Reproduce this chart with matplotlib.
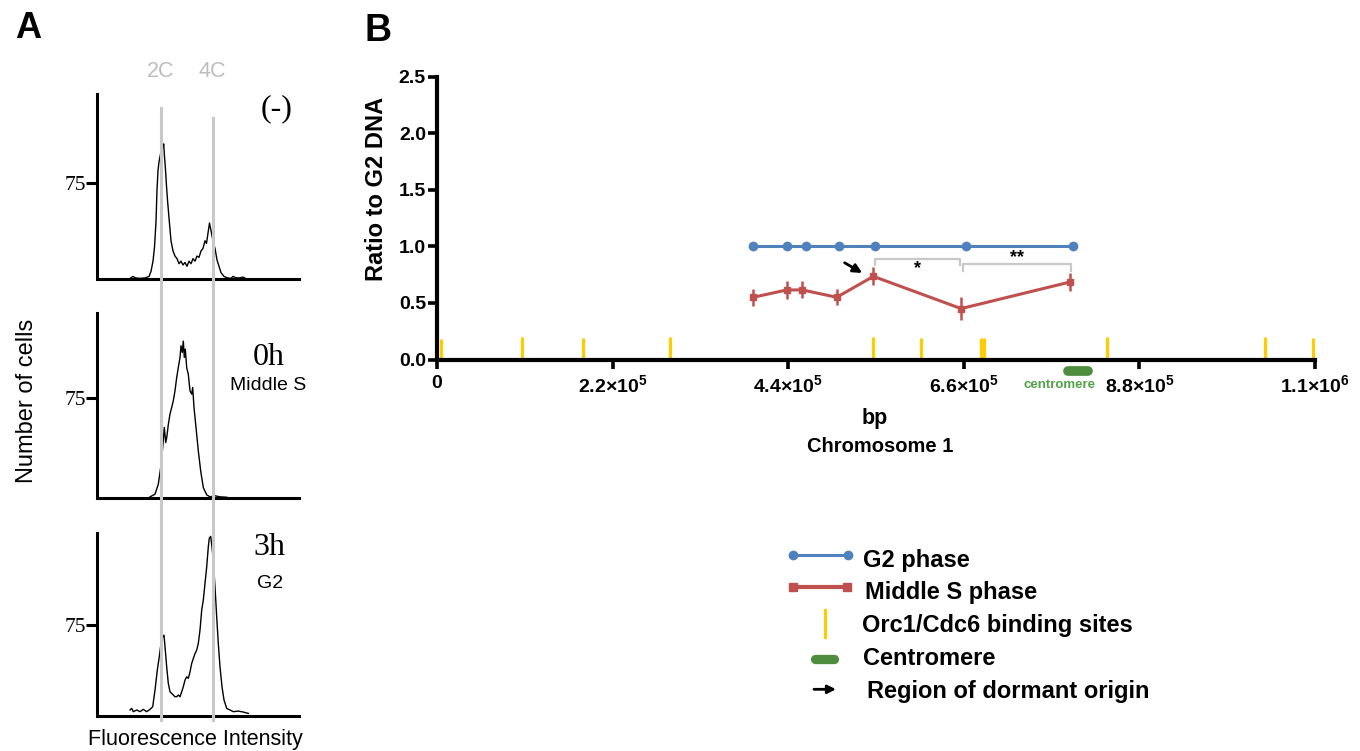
import matplotlib
matplotlib.use("Agg")
import matplotlib.pyplot as plt
from matplotlib.transforms import blended_transform_factory

plt.rcParams["font.family"] = ["Liberation Sans", "DejaVu Sans"]
plt.rcParams["mathtext.fontset"] = "custom"
plt.rcParams["mathtext.rm"] = "Liberation Sans"
plt.rcParams["mathtext.bf"] = "Liberation Sans:bold"

W, H = 1360, 751

# ---- panel A: DNA content histograms (fluorescence channel, number of cells)
ctrl_channel = [31, 34, 36, 40, 46, 50, 52, 54, 55.5, 57, 58, 59, 60, 61, 62, 63, 64, 64.7, 65.5, 66.5,
                67.5, 68.5, 70, 72, 74, 76, 78, 80, 82, 84, 86, 88, 90, 92, 94, 96, 98, 100, 102, 104,
                106, 107.5, 109, 110.5, 111.5, 113, 114.5, 116, 118, 120, 122, 125, 128, 132, 134, 137, 140, 144, 147]
ctrl_cells = [0.5, 2, 1, 0.5, 0.8, 2, 6, 14, 25, 45, 70, 85, 92, 96, 100, 108, 104, 106, 96, 86,
              73, 62, 48, 30, 22, 18, 16, 12, 14, 11, 13, 10, 14, 12, 16, 14, 18, 17, 22, 24,
              30, 28, 36, 44, 40, 34, 28, 24, 15, 10, 5, 2, 1, 0.5, 2, 1, 0.8, 1.5, 0.3]

mid_s_channel = [51, 56, 59.3, 61.7, 63.7, 65.3, 66.7, 67.7, 69.3, 71, 72.7, 74.3, 76, 77.7, 79.3, 81, 82, 83.3,
                 84.3, 85.3, 86.3, 87.7, 89.3, 91, 92.7, 93.7, 95, 97, 99.3, 101.7, 104.3, 107.7, 111, 116, 121, 127.7]
mid_s_cells = [0.5, 2.5, 10, 22.7, 37.8, 52.9, 41.5, 45, 55, 63, 68, 73, 80.6, 90.6, 98, 105.7, 114.5, 109.5,
               118, 105.7, 112, 98, 93, 80.6, 78, 83, 68, 52.9, 35.2, 20, 7.5, 2, 0.5, 1.3, 0.5, 0.2]

g2_channel = [31, 32.7, 34.3, 37.7, 41, 44.3, 47.7, 51, 53.7, 56, 58.3, 60.3, 62, 63.7, 65, 66.3, 67.7, 69.3, 71, 72.7,
              74.3, 76, 77.7, 79.3, 81, 82.7, 84.3, 86, 87.7, 89.3, 91, 92.7, 94.3, 96, 97.7, 99.3, 101, 102.7, 104.3, 106,
              107.7, 109.3, 110.3, 111.7, 113, 114.3, 116, 117.7, 119.3, 121, 123, 125, 127.7, 131, 134.3, 139.3, 144.3, 149.3]
g2_cells = [4.7, 6, 3.3, 4.7, 3.3, 5.2, 3.3, 5.2, 7.4, 21, 37.5, 48.5, 59.4, 64.9, 66.2, 54, 40, 26.6, 19.7, 18.3,
            17, 15.6, 15.6, 17, 15.6, 19.7, 23.8, 29.3, 32, 30.7, 36, 43, 47, 51, 54, 59.4, 70.4, 86.8, 95, 108.7,
            122.4, 138.8, 146, 147.5, 138.8, 127.8, 106, 81.3, 59.4, 40.2, 23.8, 12.9, 6, 4.7, 3.3, 3.8, 3, 1.9]

ploidy_labels = ["2C", "4C"]
ploidy_channel = [62, 113.7]
sample_titles = ["(-)", "0h", "3h"]
sample_phases = ["", "Middle S", "G2"]

# ---- panel B: copy number along chromosome 1
g2_bp = [395600, 438200, 462000, 504100, 548400, 662800, 796500]
g2_ratio = [1.0, 1.0, 1.0, 1.0, 1.0, 1.0, 1.0]
mid_bp = [396300, 438200, 457700, 500800, 546700, 656600, 793100]
mid_ratio = [0.55, 0.615, 0.615, 0.55, 0.735, 0.45, 0.685]
mid_err = [0.075, 0.08, 0.075, 0.07, 0.08, 0.10, 0.08]
orc_bp = [5000, 106500, 183000, 292000, 546300, 607000, 681200, 685800, 839000, 1037500, 1097600]
orc_height = [0.185, 0.20, 0.19, 0.203, 0.20, 0.188, 0.194, 0.194, 0.203, 0.196, 0.188]
centromere_bp = [790000, 815000]
xtick_bp = [0, 220000, 440000, 660000, 880000, 1100000]
xtick_labels = ["0", r"2.2×10$^{\mathbf{5}}$", r"4.4×10$^{\mathbf{5}}$", r"6.6×10$^{\mathbf{5}}$",
                r"8.8×10$^{\mathbf{5}}$", r"1.1×10$^{\mathbf{6}}$"]
ytick_ratio = [0.0, 0.5, 1.0, 1.5, 2.0, 2.5]
# significance brackets: (start bp, end bp, top, leg bottom, label, label y)
brackets = [(548400, 655000, 0.889, 0.836, "*", 0.80),
            (659500, 794400, 0.845, 0.78, "**", 0.905)]

BLUE = "#4f81bd"
RED = "#c0504d"
YELLOW = "#ffcc00"
GREEN = "#4e8c3e"
GREY = "#c8c8c8"


def rect(x0, y0, x1, y1):
    return [x0 / W, 1 - y1 / H, (x1 - x0) / W, (y1 - y0) / H]


fig = plt.figure(figsize=(W / 100, H / 100), dpi=100)

# panel A
a_rects = [(100, 94.3, 299, 279), (100, 313.3, 299, 497.5), (100, 532.7, 299, 715.7)]
a_ytop = [145, 139, 150.5]
traces = [(ctrl_channel, ctrl_cells), (mid_s_channel, mid_s_cells), (g2_channel, g2_cells)]
axes_a = []
for r, ytop, (chan, cells) in zip(a_rects, a_ytop, traces):
    ax = fig.add_axes(rect(*r))
    ax.plot(chan, cells, color="black", lw=1.0)
    ax.set_xlim(1, 200)
    ax.set_ylim(0, ytop)
    for side in ("top", "right"):
        ax.spines[side].set_visible(False)
    ax.spines["left"].set_position(("outward", 2))
    ax.spines["left"].set_linewidth(2.2)
    ax.spines["bottom"].set_linewidth(2.2)
    ax.set_xticks([])
    ax.set_yticks([75])
    ax.set_yticklabels(["75"], fontfamily="Liberation Serif", fontsize=15.5)
    ax.tick_params(axis="y", direction="out", length=8, width=2.2, pad=0)
    ax.patch.set_visible(False)
    axes_a.append(ax)

# panel B
ax = fig.add_axes(rect(437, 76.7, 1315, 359.5))
ax.vlines(orc_bp, 0, orc_height, color=YELLOW, lw=2.3, zorder=2)
ax.plot(g2_bp, g2_ratio, color=BLUE, lw=2.2, marker="o", ms=6, zorder=3)
ax.errorbar(mid_bp, mid_ratio, yerr=mid_err, color=RED, lw=2.2, elinewidth=1.8,
            capsize=0, marker="s", ms=4, zorder=3)
for x0, x1, top, low, lab, ly in brackets:
    ax.plot([x0, x0, x1, x1], [low, top, top, low], color=GREY, lw=1.6, zorder=2)
    ax.text((x0 + x1) / 2, ly, lab, ha="center", va="center", fontsize=13, fontweight="bold")
ax.annotate("", xy=(mid_bp[4] - 14000, mid_ratio[4] + 0.03),
            xytext=(mid_bp[4] - 36000, mid_ratio[4] + 0.12),
            arrowprops=dict(arrowstyle="-|>", color="black", lw=2, mutation_scale=13,
                            shrinkA=0, shrinkB=0))
ax.plot(centromere_bp, [-0.1, -0.1], color=GREEN, lw=7, solid_capstyle="round", clip_on=False)
ax.text(780000, -0.226, "centromere", color="#52a047", fontsize=9.5, fontweight="bold",
        ha="center", va="center")
ax.set_xlim(0, 1100000)
ax.set_ylim(0, 2.5)
ax.set_xticks(xtick_bp, xtick_labels)
ax.set_yticks(ytick_ratio, [f"{v:.1f}" for v in ytick_ratio])
for lab in ax.get_xticklabels() + ax.get_yticklabels():
    lab.set_fontweight("bold")
ax.tick_params(axis="x", length=6.5, width=2.6, labelsize=14, pad=4.5)
ax.tick_params(axis="y", length=6.5, width=2.6, labelsize=14, pad=1.5)
for side in ("top", "right"):
    ax.spines[side].set_visible(False)
for side in ("left", "bottom"):
    ax.spines[side].set_linewidth(3)
ax.patch.set_visible(False)

# overlay in pixel coordinates for labels and legend
ov = fig.add_axes([0, 0, 1, 1])
ov.set_xlim(0, W)
ov.set_ylim(H, 0)
ov.axis("off")

for lab, c, y0 in zip(ploidy_labels, ploidy_channel, [108, 118]):
    tr = blended_transform_factory(axes_a[0].transData, ov.transData)
    ov.plot([c, c], [y0, 720], color=GREY, lw=2.2, transform=tr, clip_on=False)
    ov.text(c, 76.7, lab, color="#bdbdbd", fontsize=15.5, ha="center", va="baseline", transform=tr)

serif = "Liberation Serif"
for title, phase, (tx, ty), (px, py) in zip(sample_titles, sample_phases,
                                              [(276.7, 116), (269, 365), (269, 555)],
                                              [(0, 0), (267.7, 390), (270.5, 588.3)]):
    ov.text(tx, ty, title, fontfamily=serif, fontsize=23, ha="center", va="baseline")
    if phase:
        ov.text(px, py, phase, fontsize=14, ha="center", va="baseline")

ov.text(28, 38.3, "A", fontsize=26, fontweight="bold", ha="center", va="baseline")
ov.text(378, 40.7, "B", fontsize=27, fontweight="bold", ha="center", va="baseline")
ov.text(27.5, 401, "Number of cells", fontsize=17, rotation=90, ha="center", va="center")
ov.text(195, 745, "Fluorescence Intensity", fontsize=15.5, ha="center", va="baseline")

ov.text(376.5, 188.5, "Ratio to G2 DNA", fontsize=17, fontweight="bold", rotation=90,
        ha="center", va="center")
ov.text(875, 424.3, "bp", fontsize=15.5, fontweight="bold", ha="center", va="baseline")
ov.text(880, 451.7, "Chromosome 1", fontsize=14.5, fontweight="bold", ha="center", va="baseline")

# legend
ov.plot([793.3, 848.3], [555, 555], color=BLUE, lw=2.2, marker="o", ms=6)
ov.plot([792.5, 846.5], [587.3, 587.3], color=RED, lw=3, marker="s", ms=5.5)
ov.plot([825, 825], [610, 636.7], color=YELLOW, lw=2.2)
ov.plot([814.7, 834.3], [658.7, 658.7], color=GREEN, lw=6.7, solid_capstyle="round")
ov.annotate("", xy=(836, 689.3), xytext=(814, 689.3),
            arrowprops=dict(arrowstyle="-|>", color="black", lw=2, mutation_scale=12,
                            shrinkA=0, shrinkB=0))
legend_text = ["G2 phase", "Middle S phase", "Orc1/Cdc6 binding sites", "Centromere", "Region of dormant origin"]
for txt, x, y in zip(legend_text, [863.3, 865, 861.7, 863.3, 866.7], [566.7, 599.3, 631.7, 665, 698.3]):
    ov.text(x, y, txt, fontsize=17, fontweight="bold", ha="left", va="baseline")

fig.savefig("out.png", dpi=100)
